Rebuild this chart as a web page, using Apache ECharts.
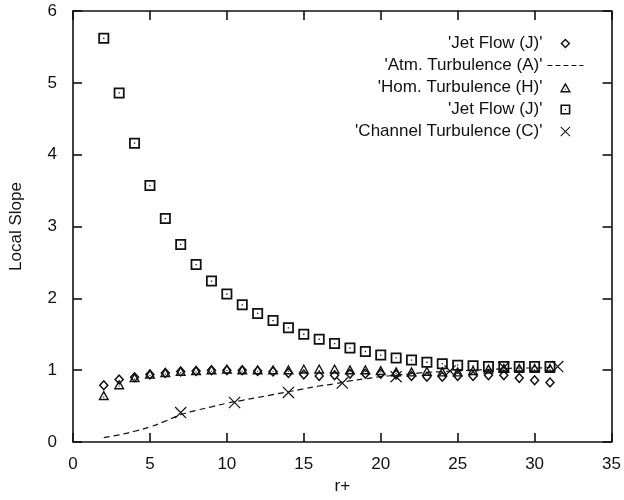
<!DOCTYPE html>
<html>
<head>
<meta charset="utf-8">
<script src="https://cdn.jsdelivr.net/npm/echarts@6/dist/echarts.min.js"></script>
<style>
  html, body { margin: 0; padding: 0; background: #fff; }
  #chart { width: 624px; height: 500px; }
</style>
</head>
<body>
<div id="chart"></div>
<script>
// r+ positions of the sampled points
var rPlus = [2, 3, 4, 5, 6, 7, 8, 9, 10, 11, 12, 13, 14, 15, 16, 17, 18, 19, 20, 21, 22, 23, 24, 25, 26, 27, 28, 29, 30, 31];

var jetFlowA = [0.79, 0.87, 0.90, 0.94, 0.96, 0.98, 0.99, 1.00, 1.00, 1.00, 0.99, 0.98, 0.96, 0.94, 0.92, 0.93, 0.95, 0.95, 0.95, 0.94, 0.92, 0.91, 0.91, 0.92, 0.92, 0.93, 0.93, 0.89, 0.86, 0.83];
var atmTurb = [0.06, 0.10, 0.15, 0.21, 0.29, 0.38, 0.44, 0.49, 0.54, 0.58, 0.62, 0.66, 0.70, 0.74, 0.78, 0.81, 0.85, 0.88, 0.91, 0.93, 0.95, 0.97, 0.98, 0.99, 1.00, 1.01, 1.02, 1.03, 1.03, 1.04];
var homTurb = [0.65, 0.80, 0.90, 0.95, 0.97, 0.99, 1.00, 1.01, 1.02, 1.01, 1.01, 1.01, 1.01, 1.02, 1.02, 1.02, 1.01, 1.01, 1.00, 0.98, 0.98, 0.99, 0.98, 0.98, 1.00, 1.02, 1.03, 1.03, 1.03, 1.03];
var jetFlowB = [5.62, 4.86, 4.16, 3.57, 3.11, 2.75, 2.47, 2.24, 2.06, 1.91, 1.79, 1.69, 1.59, 1.50, 1.43, 1.37, 1.31, 1.26, 1.21, 1.17, 1.14, 1.11, 1.09, 1.07, 1.06, 1.05, 1.05, 1.05, 1.05, 1.05];

var chanX = [7, 10.5, 14, 17.5, 21, 24.5, 28, 31.5];
var chanTurb = [0.41, 0.55, 0.69, 0.82, 0.91, 0.99, 1.04, 1.05];

var legendNames = ["'Jet Flow (J)'", "'Atm. Turbulence (A)'", "'Hom. Turbulence (H)'", "'Jet Flow (J)'", "'Channel Turbulence (C)'"];
var seriesKeys = ['jetA', 'atm', 'hom', 'jetB', 'chan'];

// hollow marker shapes (outer ring + inner hole, plus centre dot for some)
var diamondPath = 'path://M5,0L10,5L5,10L0,5ZM5,2L2,5L5,8L8,5Z';
var trianglePath = 'path://M5,0L10,9L0,9ZM5,2.6L2.1,7.7L7.9,7.7ZM4.5,5.6L5.5,5.6L5.5,6.6L4.5,6.6Z';
var squarePath = 'path://M0,0L10,0L10,10L0,10ZM1.6,1.6L1.6,8.4L8.4,8.4L8.4,1.6ZM4.4,4.4L5.6,4.4L5.6,5.6L4.4,5.6Z';
var crossPath = 'path://M0,0.7L0.7,0L10,9.3L9.3,10ZM9.3,0L10,0.7L0.7,10L0,9.3Z';

function pairs(xs, ys) {
  return xs.map(function (x, i) { return [x, ys[i]] })
}

var ink = '#111';
var font = 'Liberation Sans, Arial, Helvetica, sans-serif';

var chart = echarts.init(document.getElementById('chart'), null, { renderer: 'canvas' });

function xAxisOf(pos, showLabels) {
  return {
    type: 'value', position: pos, min: 0, max: 35, interval: 5,
    name: showLabels ? 'r+' : '', nameLocation: 'middle', nameGap: 36,
    nameTextStyle: { color: ink, fontSize: 17, fontFamily: font },
    axisLine: { show: true, onZero: false, lineStyle: { color: ink, width: 1.6 } },
    axisTick: { show: true, inside: true, length: 9, lineStyle: { color: ink, width: 1.6 } },
    axisLabel: { show: showLabels, margin: 14, color: ink, fontSize: 17, fontFamily: font },
    splitLine: { show: false }
  }
}

function yAxisOf(pos, showLabels) {
  return {
    type: 'value', position: pos, min: 0, max: 6, interval: 1,
    name: showLabels ? 'Local Slope' : '', nameLocation: 'middle', nameGap: 48, nameRotate: 90,
    nameTextStyle: { color: ink, fontSize: 17, fontFamily: font },
    axisLine: { show: true, onZero: false, lineStyle: { color: ink, width: 1.6 } },
    axisTick: { show: true, inside: true, length: 9, lineStyle: { color: ink, width: 1.6 } },
    axisLabel: { show: showLabels, margin: 16, color: ink, fontSize: 17, fontFamily: font },
    splitLine: { show: false }
  }
}

function marker(name, data, symbol, size) {
  return {
    name: name, type: 'scatter', data: data, symbol: symbol, symbolSize: size,
    itemStyle: { color: ink, opacity: 1 }, z: 3
  }
}

var option = {
  animation: false,
  backgroundColor: '#fff',
  grid: { left: 72, right: 10, top: 11, bottom: 50 },
  xAxis: [xAxisOf('bottom', true), xAxisOf('top', false)],
  yAxis: [yAxisOf('left', true), yAxisOf('right', false)],
  legend: {
    orient: 'vertical', align: 'right', right: 35, top: 30,
    itemWidth: 36, itemHeight: 10, itemGap: 5,
    data: [
      { name: 'jetA' },
      { name: 'atm', itemStyle: { opacity: 0 }, lineStyle: { width: 1.2, type: [5, 3] } },
      { name: 'hom' },
      { name: 'jetB' },
      { name: 'chan' }
    ],
    formatter: function (n) {
      return legendNames[seriesKeys.indexOf(n)]
    },
    textStyle: { color: ink, fontSize: 17, fontFamily: font }
  },
  series: [
    marker('jetA', pairs(rPlus, jetFlowA), diamondPath, [10, 11]),
    {
      name: 'atm', type: 'line', data: pairs(rPlus, atmTurb), smooth: true,
      symbol: 'none', showSymbol: false,
      lineStyle: { color: ink, width: 1.2, type: [6, 4] },
      itemStyle: { color: ink }
    },
    marker('hom', pairs(rPlus, homTurb), trianglePath, [11, 10]),
    marker('jetB', pairs(rPlus, jetFlowB), squarePath, 11),
    marker('chan', pairs(chanX, chanTurb), crossPath, 12)
  ]
};

chart.setOption(option);
</script>
</body>
</html>
